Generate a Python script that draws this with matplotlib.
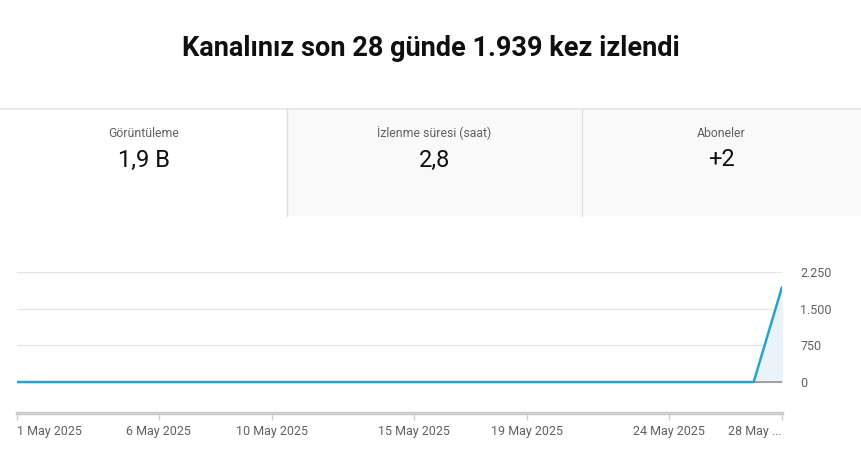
import matplotlib.pyplot as plt
from matplotlib.patches import Rectangle
import datetime

plt.rcParams["font.family"] = ["Roboto", "DejaVu Sans"]

# data
days = [datetime.date(2025, 5, d) for d in range(1, 29)]
views = [0] * 27 + [1939]
card_titles = ["Görüntüleme", "İzlenme süresi (saat)", "Aboneler"]
card_values = ["1,9 B", "2,8", "+2"]
tick_days = [1, 6, 10, 15, 19, 24, 28]
tick_labels = ["1 May 2025", "6 May 2025", "10 May 2025", "15 May 2025",
               "19 May 2025", "24 May 2025", "28 May ..."]
y_ticks = [0, 750, 1500, 2250]
y_labels = ["0", "750", "1.500", "2.250"]

W, H = 861, 449
fig = plt.figure(figsize=(W / 100, H / 100), dpi=100)


def fx(px):
    return px / W


def fy(py):
    return 1 - py / H


fig.text(0.5, fy(48), "Kanalınız son 28 günde 1.939 kez izlendi",
         ha="center", va="center", fontsize=19.5, fontweight="bold", color="#0f0f0f")

# cards
card_edges = [0, 287, 582, 861]
card_bg = ["white", "#f9f9f9", "#f9f9f9"]
for i in range(3):
    x0, x1 = card_edges[i], card_edges[i + 1]
    fig.patches.append(Rectangle((fx(x0), fy(216)), fx(x1 - x0), (216 - 109) / H,
                                 transform=fig.transFigure, facecolor=card_bg[i],
                                 edgecolor="none", zorder=0))
    cx = fx((x0 + x1) / 2)
    fig.text(cx, fy(133), card_titles[i], ha="center", va="center",
             fontsize=8.8, color="#606060")
    fig.text(cx, fy(160), card_values[i], ha="center", va="center",
             fontsize=17, color="#0f0f0f")
fig.add_artist(plt.Line2D([0, 1], [fy(108.5), fy(108.5)], color="#e5e5e5", lw=1.2))
for x in card_edges[1:3]:
    fig.add_artist(plt.Line2D([fx(x), fx(x)], [fy(109), fy(216)], color="#e0e0e0", lw=1))

# chart
ax = fig.add_axes([fx(17), fy(413), fx(782 - 17), (413 - 272) / H])
ax.fill_between(days, views, 0, color="#e8f4fa", zorder=1)
ax.axhline(0, color="#909090", lw=1.2, zorder=2)
ax.plot(days, views, color="#2aa3cc", lw=1.8, zorder=3, solid_capstyle="round")
ax.set_xlim(days[0], days[-1])
ax.set_ylim(-634, 2250)
for v in y_ticks[1:]:
    ax.axhline(v, color="#e6e6e6", lw=1, zorder=0)
ax.set_yticks(y_ticks)
ax.set_yticklabels(y_labels)
ax.yaxis.tick_right()
ax.tick_params(axis="y", length=0, pad=13, labelsize=9, labelcolor="#606060")
for lab in ax.get_yticklabels():
    lab.set_horizontalalignment("left")

ax.set_xticks([datetime.date(2025, 5, d) for d in tick_days])
ax.set_xticklabels(tick_labels)
ax.tick_params(axis="x", length=5, width=1, color="#cccccc", pad=4,
               labelsize=9, labelcolor="#606060")
xl = ax.get_xticklabels()
xl[0].set_horizontalalignment("left")
xl[-1].set_horizontalalignment("right")

for s in ["top", "left", "right"]:
    ax.spines[s].set_visible(False)
ax.spines["bottom"].set_color("#cccccc")
ax.spines["bottom"].set_linewidth(2.5)

fig.savefig("out.png", dpi=100)
